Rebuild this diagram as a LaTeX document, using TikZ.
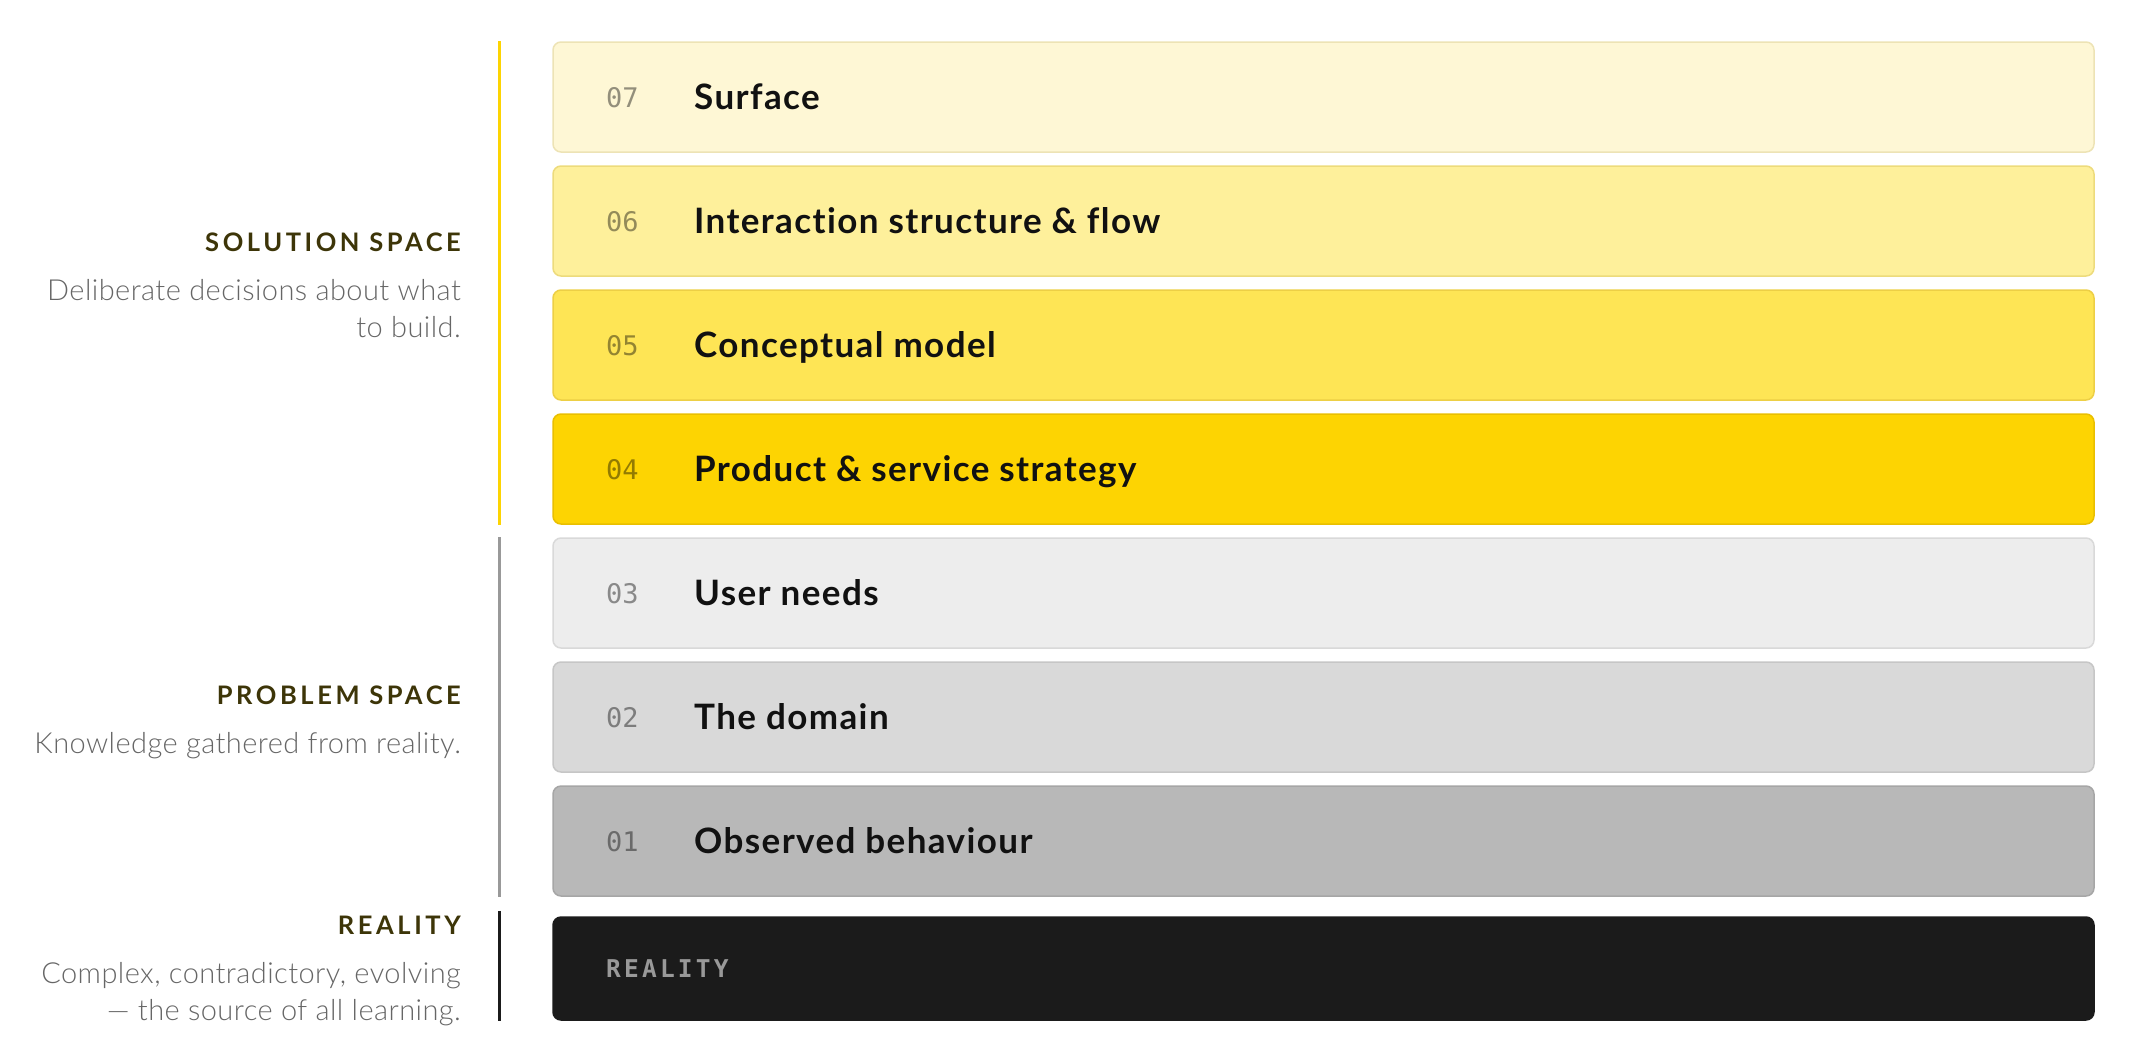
\documentclass[tikz,border=0pt]{standalone}
\usepackage{fontspec}
\setmainfont{Lato}
\setmonofont{DejaVu Sans Mono}
\newfontfamily\namefont{Lato}[LetterSpace=4, Ligatures=NoCommon]
\newfontfamily\headfont{Lato}[LetterSpace=14]
\newfontfamily\descfont{Lato Light}[LetterSpace=1.5]
\newfontfamily\realfont{DejaVu Sans Mono}[LetterSpace=13]
\usetikzlibrary{positioning}

\definecolor{fillseven}{HTML}{FEF7D5}
\definecolor{lineseven}{HTML}{EDE3B5}
\definecolor{fillsix}{HTML}{FEF09B}
\definecolor{linesix}{HTML}{EDDB7C}
\definecolor{fillfive}{HTML}{FEE555}
\definecolor{linefive}{HTML}{EDCF45}
\definecolor{fillfour}{HTML}{FDD402}
\definecolor{linefour}{HTML}{E9BF00}
\definecolor{fillthree}{HTML}{EDEDED}
\definecolor{linethree}{HTML}{D9D9D9}
\definecolor{filltwo}{HTML}{D9D9D9}
\definecolor{linetwo}{HTML}{C6C6C6}
\definecolor{fillone}{HTML}{B8B8B8}
\definecolor{lineone}{HTML}{A6A6A6}
\definecolor{fillreal}{HTML}{1B1B1B}
\definecolor{headcol}{HTML}{3D3508}
\definecolor{desccol}{HTML}{666666}
\definecolor{labelcol}{HTML}{111111}

\tikzset{
  layer/.style={rectangle, rounded corners=8pt, line width=1.5pt,
    minimum width=1541pt, minimum height=110pt, inner sep=0pt},
  layernum/.style={font=\ttfamily\fontsize{27}{27}\selectfont, text=black,
    text opacity=0.42, inner sep=0pt, anchor=base west},
  layername/.style={font=\namefont\bfseries\fontsize{35}{35}\selectfont,
    text=labelcol, inner sep=0pt, anchor=base west},
  realname/.style={font=\realfont\bfseries\fontsize{24.5}{24.5}\selectfont,
    text=gray!80, inner sep=0pt, anchor=base west},
  spacehead/.style={font=\headfont\bfseries\fontsize{25.5}{25.5}\selectfont,
    text=headcol, inner sep=0pt, anchor=base east},
  spacedesc/.style={font=\descfont\fontsize{29}{37}\selectfont,
    text=desccol, inner sep=0pt, align=right},
  rule/.style={line width=3pt}
}

\begin{document}
\begin{tikzpicture}[x=1pt, y=-1pt]
  % Drawing parameters
  \pgfmathsetmacro{\midx}{1323.5}
  \pgfmathsetmacro{\numx}{606}
  \pgfmathsetmacro{\textx}{694}
  \pgfmathsetmacro{\colx}{499}

  \useasboundingbox (0,0) rectangle (2132,1060);
  \coordinate (col) at (\colx, 0);

  % layers, top to bottom
  \node[layer, fill=fillseven, draw=lineseven] (l7) at (\midx, 97) {};
  \node[layer, fill=fillsix, draw=linesix] (l6) at (\midx, 221) {};
  \node[layer, fill=fillfive, draw=linefive] (l5) at (\midx, 345) {};
  \node[layer, fill=fillfour, draw=linefour] (l4) at (\midx, 469) {};
  \node[layer, fill=fillthree, draw=linethree] (l3) at (\midx, 593) {};
  \node[layer, fill=filltwo, draw=linetwo] (l2) at (\midx, 717) {};
  \node[layer, fill=fillone, draw=lineone] (l1) at (\midx, 841) {};
  \node[layer, fill=fillreal, draw=fillreal, minimum height=103pt] (l0) at (\midx, 968.5) {};

  \node[layernum] (n7) at (\numx, 107) {07};
  \node[layernum] (n6) at (\numx, 231) {06};
  \node[layernum] (n5) at (\numx, 355) {05};
  \node[layernum] (n4) at (\numx, 479) {04};
  \node[layernum] (n3) at (\numx, 603) {03};
  \node[layernum] (n2) at (\numx, 727) {02};
  \node[layernum] (n1) at (\numx, 851) {01};
  \node[realname] (n0) at (\numx, 977.5) {REALITY};

  \node[layername] (t7) at (\textx, 109.5) {Surface};
  \node[layername] (t6) at (\textx, 233.5) {Interaction structure \& flow};
  \node[layername] (t5) at (\textx, 357.5) {Conceptual model};
  \node[layername] (t4) at (\textx, 481.5) {Product \& service strategy};
  \node[layername] (t3) at (\textx, 605.5) {User needs};
  \node[layername] (t2) at (\textx, 729.5) {The domain};
  \node[layername] (t1) at (\textx, 853.5) {Observed behaviour};

  % left column
  \node[spacehead] (hs) at (461, 251.5) {SOLUTION SPACE};
  \node[spacedesc, below left=27pt and 0pt of hs.south east] (ds) {Deliberate decisions about what\\to build.};
  \node[spacehead] (hp) at (461, 704.5) {PROBLEM SPACE};
  \node[spacedesc, below left=27pt and 0pt of hp.south east] (dp) {Knowledge gathered from reality.};
  \node[spacehead] (hr) at (461, 934.5) {REALITY};
  \node[spacedesc, below left=27pt and 0pt of hr.south east] (dr) {Complex, contradictory, evolving\\— the source of all learning.};

  \draw[rule, draw=fillfour] (col |- l7.north) -- (col |- l4.south);
  \draw[rule, draw=gray!80] (col |- l3.north) -- (col |- l1.south);
  \draw[rule, draw=fillreal] (col |- hr.north) ++(0,-5) -- (col |- l0.south);

\end{tikzpicture}
\end{document}
